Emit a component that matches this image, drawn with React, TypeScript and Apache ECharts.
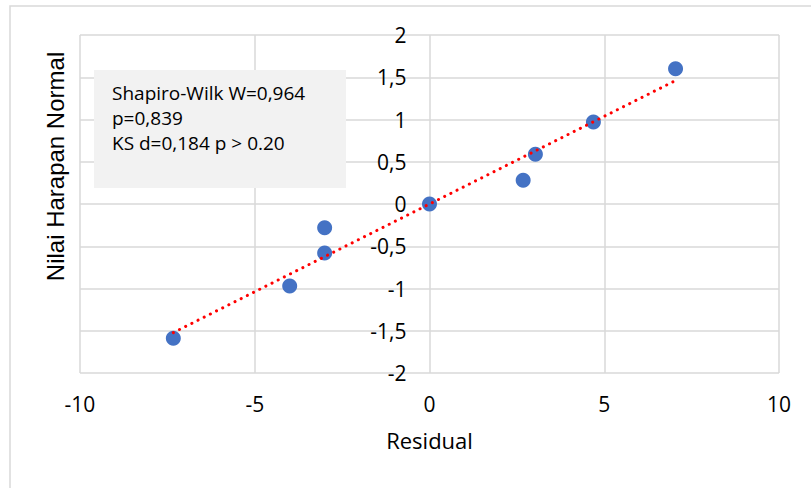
import React, { useEffect, useRef } from "react";
import * as echarts from "echarts";

const residuals = [-7.33, -4.0, -3.0, -3.0, 0.0, 2.68, 3.03, 4.69, 7.04];
const normalExpected = [-1.59, -0.97, -0.58, -0.28, 0.0, 0.28, 0.59, 0.97, 1.6];
const xTicks = [-10, -5, 0, 5, 10];
const yTicks = [-2, -1.5, -1, -0.5, 0, 0.5, 1, 1.5, 2];
const statLines = ["Shapiro-Wilk W=0,964", "p=0,839", "KS d=0,184 p > 0.20"];
const xTitle = "Residual";
const yTitle = "Nilai Harapan Normal";

const FONT = "'Open Sans', Lato, sans-serif";
const W = 811;
const H = 488;
const GRID = { left: 80, right: 32, top: 35, bottom: 115 };

function regression(xs: number[], ys: number[]) {
  const n = xs.length;
  const mx = xs.reduce((a, b) => a + b, 0) / n;
  const my = ys.reduce((a, b) => a + b, 0) / n;
  let sxy = 0,
    sxx = 0;
  for (let i = 0; i < n; i++) {
    sxy += (xs[i] - mx) * (ys[i] - my);
    sxx += (xs[i] - mx) * (xs[i] - mx);
  }
  const b = sxy / sxx;
  return { a: my - b * mx, b };
}

export default function App() {
  const ref = useRef<HTMLDivElement>(null);
  useEffect(() => {
    document.body.style.margin = "0";
    if (!ref.current) return;
    const chart = echarts.init(ref.current, undefined, { renderer: "svg" });
    const { a, b } = regression(residuals, normalExpected);
    const xmin = Math.min(...residuals);
    const xmax = Math.max(...residuals);
    const trend = [
      [xmin, a + b * xmin],
      [xmax, a + b * xmax],
    ];
    const xMin = xTicks[0];
    const xMax = xTicks[xTicks.length - 1];
    const plotW = W - GRID.left - GRID.right;
    // move the value axis to x = 0 (Excel-style crossing)
    const yAxisOffset = -((0 - xMin) / (xMax - xMin)) * plotW;
    chart.setOption({
      animation: false,
      backgroundColor: "#ffffff",
      grid: { ...GRID, containLabel: false },
      xAxis: {
        type: "value",
        min: xMin,
        max: xMax,
        interval: 5,
        name: xTitle,
        nameLocation: "middle",
        nameGap: 56,
        nameTextStyle: { fontFamily: FONT, fontSize: 22, color: "#000" },
        axisLine: { show: false },
        axisTick: { show: false },
        axisLabel: { fontFamily: FONT, fontSize: 21, color: "#000", margin: 20 },
        splitLine: { show: true, lineStyle: { color: "#d9d9d9", width: 1.5 } },
      },
      yAxis: {
        type: "value",
        min: yTicks[0],
        max: yTicks[yTicks.length - 1],
        interval: 0.5,
        offset: yAxisOffset,
        axisLine: { show: false, onZero: false },
        axisTick: { show: false },
        axisLabel: {
          fontFamily: FONT,
          fontSize: 21,
          color: "#000",
          margin: 23,
          formatter: (v: number) => String(v).replace(".", ","),
        },
        splitLine: { show: true, lineStyle: { color: "#d9d9d9", width: 1.5 } },
      },
      series: [
        {
          type: "scatter",
          data: residuals.map((x, i) => [x, normalExpected[i]]),
          symbolSize: 15,
          itemStyle: { color: "#4472C4", opacity: 1 },
          z: 2,
        },
        {
          type: "line",
          data: trend,
          showSymbol: false,
          symbol: "none",
          lineStyle: { color: "#ff0000", width: 3, type: [0.1, 6.8], cap: "round" },
          z: 3,
        },
      ],
      graphic: [
        {
          type: "rect",
          shape: { x: 10, y: 6, width: 830, height: 510 },
          style: { fill: "none", stroke: "#d9d9d9", lineWidth: 1.5 },
          silent: true,
        },
        {
          type: "rect",
          shape: { x: 94, y: 70, width: 252, height: 118 },
          style: { fill: "#f2f2f2" },
          z: 10,
        },
        ...statLines.map((t, i) => ({
          type: "text",
          x: 112,
          y: 93 + i * 25,
          z: 11,
          style: {
            text: t,
            fontFamily: FONT,
            fontSize: 19,
            fill: "#000",
            verticalAlign: "middle",
          },
        })),
        {
          type: "text",
          x: 55.5,
          y: 166.5,
          rotation: Math.PI / 2,
          z: 11,
          style: {
            text: yTitle,
            fontFamily: "'Liberation Sans', Arial, sans-serif",
            fontSize: 24,
            fill: "#000",
            align: "center",
            verticalAlign: "middle",
          },
        },
      ],
    });
    return () => chart.dispose();
  }, []);
  return <div ref={ref} style={{ width: W, height: H }} />;
}
